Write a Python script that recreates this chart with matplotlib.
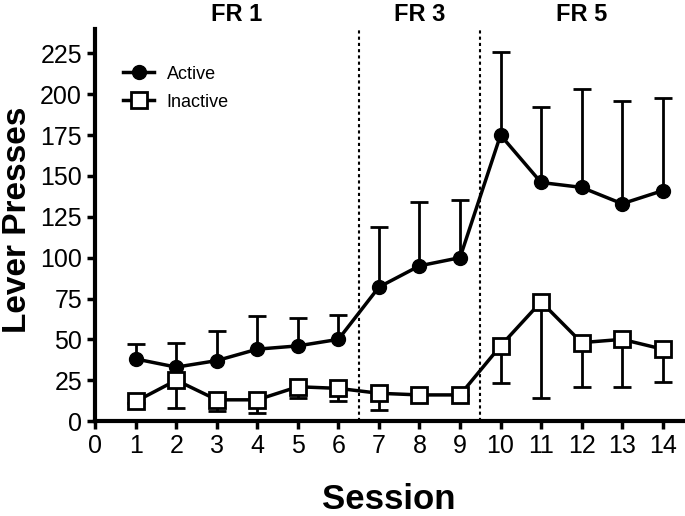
import numpy as np
import matplotlib.pyplot as plt

plt.rcParams['font.family'] = ['Liberation Sans', 'DejaVu Sans']

sessions = np.arange(1, 15)
active = [38, 33, 37, 44, 46, 50, 82, 95, 100, 175, 146, 143, 133, 141]
active_upper = [47, 48, 55, 64, 63, 65, 119, 134, 135, 226, 192, 203, 196, 198]
inactive = [12, 25, 13, 13, 21, 20, 17, 16, 16, 46, 73, 48, 50, 44]
inactive_lower = [11, 8, 6, 5, 14, 12, 7, 16, 16, 23, 14, 21, 21, 24]

phase_breaks = [6.5, 9.5]
phase_labels = ["FR 1", "FR 3", "FR 5"]
phase_centers = [3.5, 8.0, 12.0]
yticks = list(range(0, 226, 25))


def main():
    fig = plt.figure(figsize=(6.85, 5.16), dpi=100)
    ax = fig.add_axes([0.139, 0.184, 0.858, 0.76])

    # one-sided error bars: up for active, down for inactive
    ax.vlines(sessions, active, active_upper, color='black', lw=2, zorder=2)
    ax.plot(sessions, active_upper, ls='none', marker='_', ms=13, mew=2,
            color='black', zorder=2)
    ax.vlines(sessions, inactive_lower, inactive, color='black', lw=2, zorder=2)
    ax.plot(sessions, inactive_lower, ls='none', marker='_', ms=13, mew=2,
            color='black', zorder=2)

    ax.plot(sessions, active, color='black', lw=2.5, marker='o', ms=10,
            mfc='black', mec='black', label='Active', zorder=3)
    ax.plot(sessions, inactive, color='black', lw=2.5, marker='s', ms=12,
            mfc='white', mec='black', mew=2, label='Inactive', zorder=3)

    for xb in phase_breaks:
        ax.plot([xb, xb], [0, 240], color='black', lw=1.5, ls=(0, (1.5, 1.5)),
                zorder=1, clip_on=False)

    for xc, lab in zip(phase_centers, phase_labels):
        ax.text(xc, 249, lab, ha='center', va='center', fontsize=17,
                fontweight='bold')

    ax.set_xlim(0, 14.5)
    ax.set_ylim(0, 240)
    ax.set_xticks(range(0, 15))
    ax.set_yticks(yticks)
    ax.tick_params(axis='both', width=2.5, length=6, labelsize=18,
                   direction='out')
    for s in ['top', 'right']:
        ax.spines[s].set_visible(False)
    for s in ['left', 'bottom']:
        ax.spines[s].set_linewidth(3)

    ax.set_xlabel("Session", fontsize=25, fontweight='bold', va='center')
    ax.xaxis.set_label_coords(0.5, -0.2)
    ax.set_ylabel("Lever Presses", fontsize=24, fontweight='bold', va='center')
    ax.yaxis.set_label_coords(-0.132, 0.513)

    ax.legend(loc='upper left', bbox_to_anchor=(0.048, 0.906), frameon=False,
              fontsize=13, handlelength=1.7, handletextpad=0.7,
              labelspacing=0.6, borderpad=0, borderaxespad=0)

    fig.savefig("out.png", dpi=100)


if __name__ == "__main__":
    main()
